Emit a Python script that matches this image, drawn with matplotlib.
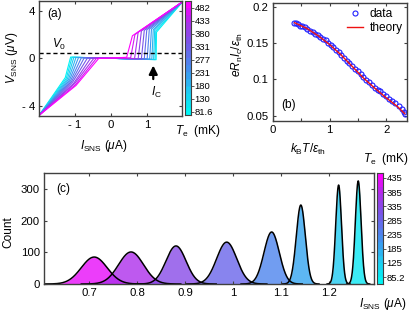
import numpy as np
import matplotlib
matplotlib.use('Agg')
import matplotlib.pyplot as plt
from matplotlib.colors import LinearSegmentedColormap, ListedColormap

plt.rcParams['font.family'] = ['Liberation Sans', 'DejaVu Sans']
plt.rcParams['mathtext.fontset'] = 'custom'
plt.rcParams['mathtext.rm'] = 'Liberation Sans'
plt.rcParams['mathtext.it'] = 'Liberation Sans:italic'
plt.rcParams['mathtext.bf'] = 'Liberation Sans:bold'

# ---------------- data ----------------
# (a) IV curves, breakpoints (cold -> hot)
Te_a_ticks = ['81.6', '130', '180', '231', '277', '331', '380', '433', '482']
I_end = [-2.0, 2.0]
V_end = [-4.75, 4.75]
I_nb = [-1.27, -1.24, -1.21, -1.18, -1.15, -1.12, -1.09, -1.06, -1.03, -1.01, -0.99, -0.97]
V_nb = [-1.6, -1.65, -1.7, -1.75, -1.8, -1.85, -1.9, -1.95, -2.05, -2.1, -2.2, -2.25]
I_neg = [-1.12, -1.08, -1.03, -0.97, -0.90, -0.82, -0.74, -0.65, -0.56, -0.47, -0.40, -0.34]
V_flat_neg = [0.12, 0.11, 0.10, 0.09, 0.08, 0.07, 0.06, 0.05, 0.04, 0.03, 0.02, 0.0]
I_c = [1.26, 1.23, 1.19, 1.14, 1.08, 1.01, 0.93, 0.85, 0.76, 0.66, 0.55, 0.44]
V_flat_pos = [-0.1, -0.09, -0.08, -0.07, -0.06, -0.05, -0.04, -0.03, -0.02, 0.0, 0.05, 0.1]
I_top = [1.27, 1.25, 1.22, 1.18, 1.13, 1.07, 1.00, 0.93, 0.85, 0.76, 0.67, 0.60]
V_top = [2.2, 2.3, 2.4, 2.4, 2.45, 2.45, 2.4, 2.35, 2.3, 2.2, 2.0, 1.9]
V0 = 0.5

# (b) critical current vs temperature
kT = [0.38, 0.41, 0.44, 0.48, 0.52, 0.56, 0.60, 0.65, 0.70, 0.74, 0.79, 0.83, 0.88,
      0.93, 0.97, 1.02, 1.07, 1.11, 1.16, 1.21, 1.26, 1.30, 1.35, 1.40, 1.45, 1.50,
      1.55, 1.60, 1.65, 1.70, 1.75, 1.80, 1.85, 1.90, 1.95, 2.00, 2.05, 2.10, 2.16,
      2.22, 2.28, 2.32, 2.33]
eRI = [0.177, 0.177, 0.176, 0.174, 0.173, 0.172, 0.169, 0.167, 0.165, 0.163, 0.161,
       0.159, 0.156, 0.154, 0.150, 0.148, 0.144, 0.141, 0.138, 0.134, 0.129, 0.126,
       0.122, 0.118, 0.115, 0.111, 0.107, 0.104, 0.099, 0.096, 0.092, 0.088, 0.085,
       0.084, 0.080, 0.077, 0.073, 0.071, 0.068, 0.063, 0.060, 0.055, 0.052]
kT_th = [0.38, 0.6, 0.8, 1.0, 1.2, 1.4, 1.6, 1.8, 2.0, 2.2, 2.33]
eRI_th = [0.178, 0.170, 0.160, 0.148, 0.134, 0.118, 0.102, 0.088, 0.075, 0.063, 0.053]

# (c) switching histograms: Gaussian fit parameters
pk_center = [0.71, 0.787, 0.881, 0.987, 1.081, 1.142, 1.221, 1.262]
pk_height = [85, 101, 120, 132, 164, 249, 312, 325]
pk_sigma = [0.027, 0.026, 0.021, 0.021, 0.016, 0.0095, 0.006, 0.006]
pk_index = [7, 6, 5, 4, 3, 2, 1, 0]   # position on colorbar (0 = coldest)
Te_c_ticks = ['85.2', '125', '185', '235', '285', '335', '385', '435']

# ---------------- style ----------------
cmap = LinearSegmentedColormap.from_list('tc', [
    (0.0, '#00f4f4'), (0.2, '#22c8f2'), (0.36, '#3c98f0'), (0.5, '#5a78ec'),
    (0.64, '#7856e8'), (0.77, '#9a3ee8'), (0.88, '#c022ee'), (1.0, '#ff00ff')])
cmap_d = ListedColormap(cmap(np.linspace(0, 1, 16)))

W, H = 412, 314
fig = plt.figure(figsize=(W / 100, H / 100), dpi=100)


def ax_px(l, t, r, b):
    return fig.add_axes([l / W, 1 - b / H, (r - l) / W, (b - t) / H])


def ftext(px, py, s, **kw):
    fig.text(px / W, 1 - py / H, s, **kw)


spine_c = '#404040'
TFS = 8.2
LFS = 8.6


def style(ax):
    for s in ax.spines.values():
        s.set_color(spine_c)
        s.set_linewidth(1.0)
    ax.tick_params(direction='in', top=True, right=True, labelsize=TFS,
                   length=2.5, width=0.8, color=spine_c, pad=3)


def colorbar(cax, labels, f0, f1):
    grad = np.linspace(0, 1, 256).reshape(-1, 1)
    cax.imshow(grad, aspect='auto', cmap=cmap_d, origin='lower', extent=[0, 1, 0, 1])
    cax.set_xticks([])
    pos = np.linspace(f0, f1, len(labels))
    cax.yaxis.tick_right()
    cax.set_yticks(pos)
    cax.set_yticklabels(labels, fontsize=6.8)
    cax.tick_params(axis='y', length=2, width=0.6, pad=0.5, color=spine_c)
    for s in cax.spines.values():
        s.set_color(spine_c)
        s.set_linewidth(0.8)
    cax.set_ylim(0, 1)


# ---------------- (a) ----------------
axA = ax_px(39, 1, 182, 116)
n = len(I_c)
for k in range(n):
    xs = [I_end[0], I_nb[k], I_neg[k], I_c[k], I_top[k], I_end[1]]
    ys = [V_end[0], V_nb[k], V_flat_neg[k], V_flat_pos[k], V_top[k], V_end[1]]
    axA.plot(xs, ys, color=cmap(k / (n - 1)), lw=0.8)
axA.axhline(V0, ls=(0, (3, 2)), color='k', lw=1.0)
axA.set_xlim(-2.0, 1.98)
axA.set_ylim(-4.8, 4.8)
axA.set_xticks([-1, 0, 1])
axA.set_xticklabels(['- 1', '0', '1'])
axA.set_yticks([-4, 0, 4])
axA.set_yticklabels(['- 4', '0', '4'])
style(axA)
axA.text(-1.45, 1.15, '$V_0$', fontsize=LFS, ha='center', va='center')
axA.annotate('', xy=(1.18, -0.35), xytext=(1.18, -1.95),
             arrowprops=dict(arrowstyle='-|>,head_width=0.25,head_length=0.5',
                             color='k', lw=1.6))
axA.text(1.26, -2.85, r'$I_\mathrm{C}$', fontsize=LFS, ha='center', va='center')
axA.text(-1.57, 3.7, '(a)', fontsize=LFS, ha='center', va='center')

caxA = ax_px(185, 1, 191, 115)
colorbar(caxA, Te_a_ticks, 0.03, 0.94)

ftext(12, 58, r'$V_\mathrm{SNS}$ ($\mu$V)', rotation=90, ha='center', va='center', fontsize=LFS)
ftext(104, 146, r'$I_\mathrm{SNS}$ ($\mu$A)', ha='center', va='center', fontsize=LFS)
ftext(198, 131, r'$T_\mathrm{e}$  (mK)', ha='center', va='center', fontsize=LFS)

# ---------------- (b) ----------------
axB = ax_px(273, 3, 407, 121)
axB.plot(kT, eRI, 'o', mfc='none', mec='#1f1fff', mew=0.8, ms=3.6, label='data')
axB.plot(kT_th, eRI_th, '-', color='#ee1111', lw=1.0, label='theory')
axB.set_xlim(0, 2.37)
axB.set_ylim(0.043, 0.205)
axB.set_xticks([0, 0.5, 1, 1.5, 2])
axB.set_xticklabels(['0', '', '1', '', '2'])
axB.set_yticks([0.05, 0.1, 0.15, 0.2])
axB.set_yticklabels(['0.05', '0.1', '0.15', '0.2'])
style(axB)
axB.legend(loc='upper right', frameon=False, fontsize=LFS, handlelength=1.4,
           handletextpad=0.5, borderaxespad=0.2, labelspacing=0.2,
           bbox_to_anchor=(1.02, 1.02))
axB.text(0.27, 0.065, '(b)', fontsize=LFS, ha='center', va='center')
ftext(237, 55, r'$eR_\mathrm{n}I_\mathrm{c}/\epsilon_\mathrm{th}$', rotation=90,
      ha='center', va='center', fontsize=LFS)
ftext(308, 149, r'$k_\mathrm{B}T/\epsilon_\mathrm{th}$', ha='center', va='center', fontsize=LFS)
ftext(386, 159, r'$T_\mathrm{e}$  (mK)', ha='center', va='center', fontsize=LFS)

# ---------------- (c) ----------------
axC = ax_px(44, 173, 374, 284)
f0c, f1c = 0.063, 0.955
fr = np.linspace(f0c, f1c, len(Te_c_ticks))
for c, h, s, idx in zip(pk_center, pk_height, pk_sigma, pk_index):
    x = np.linspace(c - 4 * s, c + 4 * s, 300)
    y = h * np.exp(-0.5 * ((x - c) / s) ** 2)
    col = cmap(fr[idx])
    axC.fill_between(x, 0, y, color=col, alpha=0.8, lw=0)
for c, h, s in zip(pk_center, pk_height, pk_sigma):
    x = np.linspace(c - 4 * s, c + 4 * s, 300)
    y = h * np.exp(-0.5 * ((x - c) / s) ** 2)
    axC.plot(x, y, color='k', lw=1.1)
axC.set_xlim(0.605, 1.295)
axC.set_ylim(0, 350)
axC.set_xticks([0.7, 0.8, 0.9, 1.0, 1.1, 1.2])
axC.set_xticklabels(['0.7', '0.8', '0.9', '1', '1.1', '1.2'])
axC.set_yticks([0, 100, 200, 300])
style(axC)
axC.text(0.645, 300, '(c)', fontsize=LFS, ha='center', va='center')

caxC = ax_px(377, 173, 383, 284)
colorbar(caxC, Te_c_ticks, f0c, f1c)

ftext(8, 232, 'Count', rotation=90, ha='center', va='center', fontsize=LFS)
ftext(383, 304, r'$I_\mathrm{SNS}$ ($\mu$A)', ha='center', va='center', fontsize=LFS)

fig.savefig('out.png', dpi=100)
